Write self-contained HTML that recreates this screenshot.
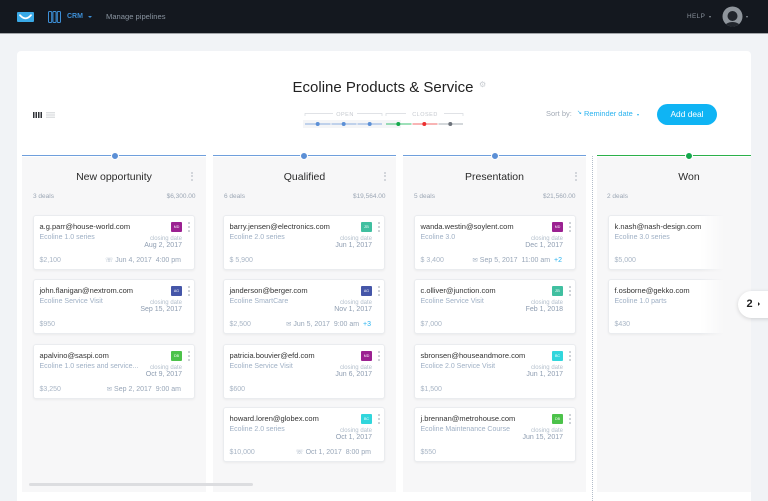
<!DOCTYPE html>
<html><head><meta charset="utf-8">
<style>
*{margin:0;padding:0;box-sizing:border-box}
html,body{width:768px;height:501px;overflow:hidden;background:#f1f3f6;font-family:"Liberation Sans",Arial,sans-serif;position:relative}
.a{position:absolute;white-space:nowrap;line-height:1}
#top{position:absolute;left:0;top:0;width:768px;height:33px;background:#14181f}
#topline{position:absolute;left:0;top:33px;width:768px;height:1px;background:#a2a5a9}
#panel{position:absolute;left:17px;top:51px;width:734px;height:460px;background:#fff;border-radius:4px}
.col{position:absolute;top:150px;height:342px}
.colbg{position:absolute;left:0;top:7px;right:0;bottom:0;background:#f7f7f8}
.cline{position:absolute;left:0;top:4.6px;right:0;height:1.4px}
.cdot{position:absolute;top:1.5px;width:8px;height:8px;border-radius:50%;border:1.5px solid #fff}
.ctitle{position:absolute;top:21.5px;left:0;width:184px;text-align:center;font-size:10.5px;color:#2b2b2b;line-height:1}
.cdeals{position:absolute;left:11px;top:43.6px;font-size:6.5px;color:#9ba6b4;line-height:1}
.camt{position:absolute;right:10.5px;top:43.6px;font-size:6.5px;color:#9ba6b4;line-height:1}
.ckb{position:absolute;top:21.5px;width:2px;height:10px}
.ckb i{display:block;width:2px;height:2px;border-radius:50%;background:#c8ccd2;margin-bottom:1.6px}
.card{position:absolute;width:162px;height:55px;background:#fff;border:1px solid #eaecef;border-radius:3px;box-shadow:0 1px 2px rgba(0,0,0,0.05)}
.card div{position:absolute;white-space:nowrap;line-height:1}
.em{left:5.5px;top:7px;font-size:7.5px;color:#333}
.pr{left:5.5px;top:18.4px;font-size:7px;color:#9fb0c5}
.cl{right:12px;top:20px;font-size:6px;color:#b3bfcc}
.dt{right:12px;top:26.4px;font-size:7px;color:#8e9db1}
.am{left:5.5px;top:41.4px;font-size:7px;color:#a8b5c5}
.rd{right:13px;top:41.4px;font-size:7px;color:#98a6b8}
.rd b{font-weight:normal;color:#27b2ef}
.ic{font-family:"DejaVu Sans",sans-serif;font-size:6.5px;color:#a8b5c5}
.card .bd{left:137px;top:6px;width:11px;height:10px;font-size:3.6px;line-height:10px;color:#fff;text-align:center;border-radius:1px}
.card .kb{left:154px;top:6px;width:2px;height:11px}
.kb i{display:block;width:1.7px;height:1.7px;border-radius:50%;background:#c3c8cf;margin-bottom:2.3px}
.tri{position:absolute;width:0;height:0;border-left:2px solid transparent;border-right:2px solid transparent}
</style></head><body>

<div id="top"></div>
<div id="topline"></div>
<svg class="a" style="left:17px;top:12px" width="17" height="10" viewBox="0 0 17 10"><rect width="17" height="10" rx="1" fill="#3aa9e6"/><path d="M3,3.2 Q8.5,9.5 14,3.2" stroke="#fff" stroke-width="1.8" fill="none" stroke-linecap="round"/></svg>
<svg class="a" style="left:48px;top:11px" width="13" height="12" viewBox="0 0 13 12"><g fill="none" stroke="#3d8fd7" stroke-width="1"><rect x="0.5" y="0.5" width="3.2" height="11" rx="1"/><rect x="4.9" y="0.5" width="3.2" height="11" rx="1"/><rect x="9.3" y="0.5" width="3.2" height="11" rx="1"/></g></svg>
<div class="a" style="left:67px;top:13.3px;font-size:7px;font-weight:bold;color:#3d8fd7">CRM</div>
<div class="tri" style="left:88px;top:16px;border-top:2.5px solid #3d8fd7"></div>
<div class="a" style="left:106px;top:13px;font-size:7.6px;color:#8a94a0">Manage pipelines</div>
<div class="a" style="left:687px;top:13.8px;font-size:6.4px;letter-spacing:0.4px;color:#8a929c">HELP</div>
<div class="tri" style="left:709px;top:16px;border-left-width:1.5px;border-right-width:1.5px;border-top:2px solid #8a929c"></div>
<svg class="a" style="left:722px;top:6px" width="21" height="21" viewBox="0 0 21 21"><defs><clipPath id="cp"><circle cx="10.5" cy="10.5" r="10"/></clipPath></defs><circle cx="10.5" cy="10.5" r="10" fill="#8f959c"/><g clip-path="url(#cp)" fill="#22262d"><circle cx="10.5" cy="10" r="5"/><ellipse cx="10.5" cy="21" rx="8" ry="5"/></g></svg>
<div class="tri" style="left:746px;top:16px;border-left-width:1.5px;border-right-width:1.5px;border-top:2px solid #8a929c"></div>

<div id="panel"></div>

<!-- view icons -->
<svg class="a" style="left:33px;top:112px" width="23" height="6" viewBox="0 0 23 6"><g fill="#2f3237"><rect x="0" y="0" width="1.5" height="6"/><rect x="2.5" y="0" width="1.5" height="6"/><rect x="5" y="0" width="1.5" height="6"/><rect x="7.5" y="0" width="1.5" height="6"/></g><g fill="#cfd2d6"><rect x="13" y="0.3" width="9" height="1"/><rect x="13" y="2.5" width="9" height="1"/><rect x="13" y="4.7" width="9" height="1"/></g></svg>

<!-- title -->
<div class="a" style="left:0;width:766px;text-align:center;top:79.6px;font-size:15px;color:#222">Ecoline Products &amp; Service</div>
<div class="a" style="left:479px;top:81px;font-family:'DejaVu Sans',sans-serif;font-size:8px;color:#c9cdd2">⚙</div>

<!-- pipeline progress -->
<svg class="a" style="left:300px;top:108px" width="170" height="22" viewBox="0 0 170 22">
<rect x="3" y="12" width="98" height="8" fill="#f4f5f7"/>
<g stroke="#d6d9de" stroke-width="0.7" fill="none">
<path d="M5,8 V5.5 H33 M57,5.5 H82 V8"/>
<path d="M86,8 V5.5 H106 M144,5.5 H163 V8"/>
</g>
<text x="45" y="7.8" font-size="5.5" fill="#c5c9cf" text-anchor="middle" font-family="Liberation Sans" letter-spacing="0.5">OPEN</text>
<text x="125" y="7.8" font-size="5.5" fill="#c5c9cf" text-anchor="middle" font-family="Liberation Sans" letter-spacing="0.5">CLOSED</text>
<g stroke-width="1">
<line x1="5" y1="16" x2="30.5" y2="16" stroke="#8aaddf"/>
<line x1="31.5" y1="16" x2="56.5" y2="16" stroke="#8aaddf"/>
<line x1="57.5" y1="16" x2="82" y2="16" stroke="#8aaddf"/>
<line x1="86" y1="16" x2="111.5" y2="16" stroke="#3cc073"/>
<line x1="112.5" y1="16" x2="137.5" y2="16" stroke="#f06a6a"/>
<line x1="138.5" y1="16" x2="163" y2="16" stroke="#aab0b7"/>
</g>
<circle cx="17.7" cy="16" r="2" fill="#5b8fd6"/>
<circle cx="43.7" cy="16" r="2" fill="#5b8fd6"/>
<circle cx="69.7" cy="16" r="2" fill="#5b8fd6"/>
<circle cx="98.3" cy="16" r="2" fill="#14a84c"/>
<circle cx="124.3" cy="16" r="2" fill="#ec2f2f"/>
<circle cx="150.3" cy="16" r="2" fill="#6d737b"/>
</svg>

<!-- sort / add -->
<div class="a" style="left:546px;top:110.4px;font-size:7.5px;color:#a3abb6">Sort by:</div>
<div class="a" style="left:577px;top:110.4px;font-family:'DejaVu Sans',sans-serif;font-size:6px;color:#2bb3ef">↘</div>
<div class="a" style="left:584px;top:110.4px;font-size:7.45px;color:#2bb3ef">Reminder date</div>
<div class="tri" style="left:637px;top:113.5px;border-left-width:1.6px;border-right-width:1.6px;border-top:2.2px solid #2bb3ef"></div>
<div class="a" style="left:657px;top:104px;width:60px;height:21px;border-radius:11px;background:#0fb4f4;color:#fff;font-size:8.4px;line-height:21px;text-align:center">Add deal</div>

<!-- dotted separator -->
<div class="a" style="left:591.5px;top:156px;width:1px;height:345px;border-left:1px dotted #b3bdca"></div>

<!-- Column 1 -->
<div class="col" style="left:22px;width:184px">
 <div class="colbg"></div>
 <div class="cline" style="background:#6f9fdc"></div>
 <div class="cdot" style="left:89px;background:#5b8fd6"></div>
 <div class="ctitle">New opportunity</div>
 <div class="ckb" style="left:169px"><i></i><i></i><i></i></div>
 <div class="cdeals">3 deals</div>
 <div class="camt">$6,300.00</div>
</div>
<!-- Column 2 -->
<div class="col" style="left:213px;width:183px">
 <div class="colbg"></div>
 <div class="cline" style="background:#6f9fdc"></div>
 <div class="cdot" style="left:87px;background:#5b8fd6"></div>
 <div class="ctitle" style="width:183px">Qualified</div>
 <div class="ckb" style="left:171px"><i></i><i></i><i></i></div>
 <div class="cdeals">6 deals</div>
 <div class="camt">$19,564.00</div>
</div>
<!-- Column 3 -->
<div class="col" style="left:403px;width:183px">
 <div class="colbg"></div>
 <div class="cline" style="background:#6f9fdc"></div>
 <div class="cdot" style="left:88px;background:#5b8fd6"></div>
 <div class="ctitle" style="width:183px">Presentation</div>
 <div class="ckb" style="left:171.5px"><i></i><i></i><i></i></div>
 <div class="cdeals">5 deals</div>
 <div class="camt">$21,560.00</div>
</div>
<!-- Column 4 -->
<div class="col" style="left:597px;width:154px;overflow:hidden">
 <div class="colbg"></div>
 <div class="cline" style="background:#2bb04a"></div>
 <div class="cdot" style="left:88px;background:#14a84c"></div>
 <div class="ctitle">Won</div>
 <div class="cdeals" style="left:10px">2 deals</div>
</div>

<!-- Column 1 cards -->
<div class="card" style="left:33px;top:215px">
 <div class="em">a.g.parr@house-world.com</div><div class="pr">Ecoline 1.0 series</div>
 <div class="bd" style="background:#9b2191">MD</div><div class="kb"><i></i><i></i><i></i></div>
 <div class="cl">closing date</div><div class="dt">Aug 2, 2017</div>
 <div class="am">$2,100</div><div class="rd"><span class="ic">☏</span> Jun 4, 2017&nbsp; 4:00 pm</div>
</div>
<div class="card" style="left:33px;top:279px">
 <div class="em">john.flanigan@nextrom.com</div><div class="pr">Ecoline Service Visit</div>
 <div class="bd" style="background:#4556a8">AG</div><div class="kb"><i></i><i></i><i></i></div>
 <div class="cl">closing date</div><div class="dt">Sep 15, 2017</div>
 <div class="am">$950</div>
</div>
<div class="card" style="left:33px;top:344px">
 <div class="em">apalvino@saspi.com</div><div class="pr">Ecoline 1.0 series and service...</div>
 <div class="bd" style="background:#4cc24a">DB</div><div class="kb"><i></i><i></i><i></i></div>
 <div class="cl">closing date</div><div class="dt">Oct 9, 2017</div>
 <div class="am">$3,250</div><div class="rd"><span class="ic">✉</span> Sep 2, 2017&nbsp; 9:00 am</div>
</div>

<!-- Column 2 cards -->
<div class="card" style="left:223px;top:215px">
 <div class="em">barry.jensen@electronics.com</div><div class="pr">Ecoline 2.0 series</div>
 <div class="bd" style="background:#40bfa0">ZB</div><div class="kb"><i></i><i></i><i></i></div>
 <div class="cl">closing date</div><div class="dt">Jun 1, 2017</div>
 <div class="am">$ 5,900</div>
</div>
<div class="card" style="left:223px;top:279px">
 <div class="em">janderson@berger.com</div><div class="pr">Ecoline SmartCare</div>
 <div class="bd" style="background:#4556a8">AG</div><div class="kb"><i></i><i></i><i></i></div>
 <div class="cl">closing date</div><div class="dt">Nov 1, 2017</div>
 <div class="am">$2,500</div><div class="rd"><span class="ic">✉</span> Jun 5, 2017&nbsp; 9:00 am&nbsp; <b>+3</b></div>
</div>
<div class="card" style="left:223px;top:344px">
 <div class="em">patricia.bouvier@efd.com</div><div class="pr">Ecoline Service Visit</div>
 <div class="bd" style="background:#9b2191">MD</div><div class="kb"><i></i><i></i><i></i></div>
 <div class="cl">closing date</div><div class="dt">Jun 6, 2017</div>
 <div class="am">$600</div>
</div>
<div class="card" style="left:223px;top:407px">
 <div class="em">howard.loren@globex.com</div><div class="pr">Ecoline 2.0 series</div>
 <div class="bd" style="background:#31d6dc">BC</div><div class="kb"><i></i><i></i><i></i></div>
 <div class="cl">closing date</div><div class="dt">Oct 1, 2017</div>
 <div class="am">$10,000</div><div class="rd"><span class="ic">☏</span> Oct 1, 2017&nbsp; 8:00 pm</div>
</div>

<!-- Column 3 cards -->
<div class="card" style="left:414px;top:215px">
 <div class="em">wanda.westin@soylent.com</div><div class="pr">Ecoline 3.0</div>
 <div class="bd" style="background:#9b2191">MD</div><div class="kb"><i></i><i></i><i></i></div>
 <div class="cl">closing date</div><div class="dt">Dec 1, 2017</div>
 <div class="am">$ 3,400</div><div class="rd"><span class="ic">✉</span> Sep 5, 2017&nbsp; 11:00 am&nbsp; <b>+2</b></div>
</div>
<div class="card" style="left:414px;top:279px">
 <div class="em">c.olliver@junction.com</div><div class="pr">Ecoline Service Visit</div>
 <div class="bd" style="background:#40bfa0">ZB</div><div class="kb"><i></i><i></i><i></i></div>
 <div class="cl">closing date</div><div class="dt">Feb 1, 2018</div>
 <div class="am">$7,000</div>
</div>
<div class="card" style="left:414px;top:344px">
 <div class="em">sbronsen@houseandmore.com</div><div class="pr">Ecolice 2.0 Service Visit</div>
 <div class="bd" style="background:#31d6dc">BC</div><div class="kb"><i></i><i></i><i></i></div>
 <div class="cl">closing date</div><div class="dt">Jun 1, 2017</div>
 <div class="am">$1,500</div>
</div>
<div class="card" style="left:414px;top:407px">
 <div class="em">j.brennan@metrohouse.com</div><div class="pr">Ecoline Maintenance Course</div>
 <div class="bd" style="background:#4cc24a">DB</div><div class="kb"><i></i><i></i><i></i></div>
 <div class="cl">closing date</div><div class="dt">Jun 15, 2017</div>
 <div class="am">$550</div>
</div>

<!-- Column 4 cards (clipped + faded) -->
<div class="a" style="left:597px;top:157px;width:154px;height:335px;overflow:hidden">
 <div class="card" style="left:11px;top:58px">
  <div class="em">k.nash@nash-design.com</div><div class="pr">Ecoline 3.0 series</div>
  <div class="am">$5,000</div>
 </div>
 <div class="card" style="left:11px;top:122px">
  <div class="em">f.osborne@gekko.com</div><div class="pr">Ecoline 1.0 parts</div>
  <div class="am">$430</div>
 </div>
 <div class="a" style="left:103px;top:40px;width:51px;height:295px;background:linear-gradient(to right,rgba(247,247,248,0) 0px,#f7f7f8 24px)"></div>
</div>

<!-- scrollbar -->
<div class="a" style="left:29px;top:483px;width:224px;height:3px;border-radius:2px;background:#dcdde0"></div>

<!-- page 2 tab -->
<div class="a" style="left:738px;top:291px;width:44px;height:27px;border-radius:14px;background:#fff;box-shadow:0 1px 4px rgba(0,0,0,0.15)"></div>
<div class="a" style="left:746.5px;top:298.5px;font-size:11px;font-weight:bold;color:#222">2</div>
<div class="a" style="left:758px;top:302px;width:0;height:0;border-top:2px solid transparent;border-bottom:2px solid transparent;border-left:2.5px solid #222"></div>

</body></html>
